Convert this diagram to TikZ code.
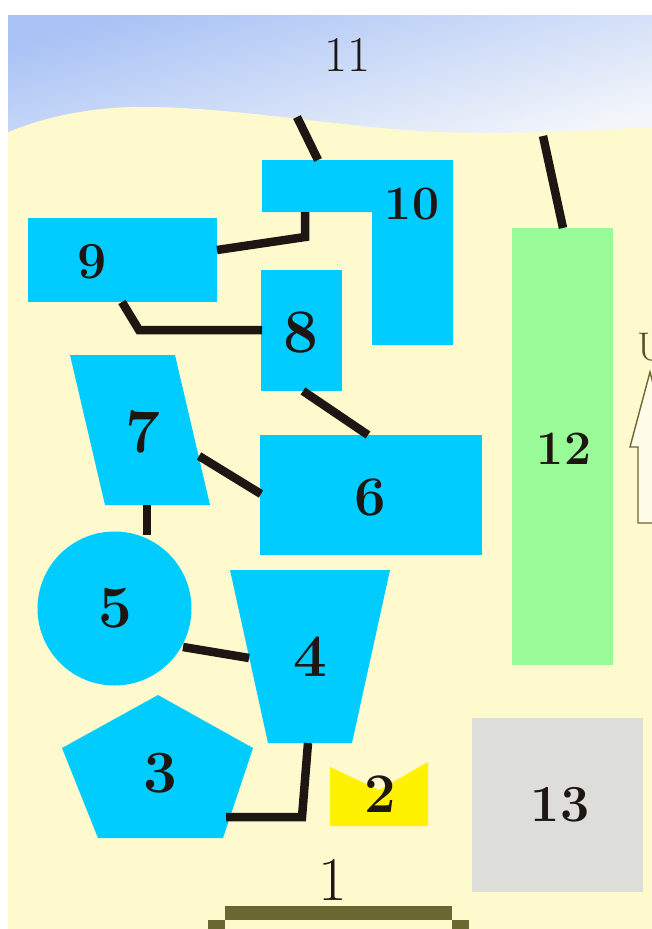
\documentclass[tikz,border=0pt]{standalone}
\usepackage{fontspec}
\usetikzlibrary{shapes.geometric}
\definecolor{skytop}{RGB}{168,194,245}
\definecolor{skylow}{RGB}{242,245,250}
\definecolor{sand}{RGB}{255,250,205}
\definecolor{blu}{RGB}{0,204,255}
\definecolor{grn}{RGB}{152,251,152}
\definecolor{gry}{RGB}{221,221,218}
\definecolor{ylw}{RGB}{255,242,0}
\definecolor{olive}{RGB}{107,103,50}
\definecolor{ink}{RGB}{30,22,18}
\definecolor{ivory}{RGB}{255,253,232}
\tikzset{
  lbl/.style={font=\fontsize{#1}{#1}\selectfont\bfseries, text=ink, inner sep=0pt},
  rlbl/.style={font=\fontsize{#1}{#1}\selectfont, text=ink, inner sep=0pt},
  box/.style={rectangle, fill=blu, draw=none, inner sep=0pt},
  wire/.style={draw=ink, line width=8.5pt, line cap=butt, line join=miter},
}
\begin{document}
\begin{tikzpicture}[x=1pt,y=-1pt]
\useasboundingbox (0,0) rectangle (652,929);
\clip (0,0) rectangle (652,929);
\fill[white] (0,0) rectangle (652,929);
\fill[sand] (8,15) rectangle (652,929);
% sky
\shade[top color=skytop, bottom color=skylow, shading angle=15]
  (8,15) -- (652,15) -- (652,127)
  .. controls (600,130) and (500,136) .. (420,131)
  .. controls (330,125) and (250,110) .. (160,107)
  .. controls (100,105) and (50,115) .. (8,132) -- cycle;

% shapes
\fill[blu] (262,160) coordinate (n10a) -- (453,160) -- (453,345) -- (372,345) -- (372,212) -- (262,212) -- cycle;
\node[box, minimum width=189pt, minimum height=84pt] (n9) at (122.5,260) {};
\node[box, minimum width=81pt, minimum height=121pt] (n8) at (301.5,330.5) {};
\fill[blu] (70,355) -- (175,355) -- (210,505) -- (105,505) -- cycle;
\node[box, minimum width=222pt, minimum height=120pt] (n6) at (371,495) {};
\node[circle, fill=blu, inner sep=0pt, minimum size=154pt] (n5) at (114.5,608.5) {};
\fill[blu] (230,570) -- (390,570) -- (352,743) -- (268,743) -- cycle;
\fill[blu] (158,695) -- (253,748) -- (223,838) -- (98,838) -- (62,748) -- cycle;
\fill[ylw] (330,767) -- (379,790) -- (428,762) -- (428,826) -- (330,826) -- cycle;
\node[rectangle, fill=grn, inner sep=0pt, minimum width=101pt, minimum height=437pt] (n12) at (562.5,446.5) {};
\node[rectangle, fill=gry, inner sep=0pt, minimum width=171pt, minimum height=174pt] (n13) at (557.5,805) {};

% connector end points
\coordinate (s11) at (297,117);
\coordinate (e10) at (318,160);
\coordinate (s12) at (543,136);
\coordinate (e12) at (563,228);
\coordinate (a9) at (217,250);
\coordinate (b9) at (305,237);
\coordinate (c10) at (305,212);
\coordinate (a98) at (122,302);
\coordinate (b98) at (139,330);
\coordinate (c8) at (262,330);
\coordinate (a86) at (303,391);
\coordinate (b6) at (368,435);
\coordinate (a7) at (199,456);
\coordinate (b76) at (261,494);
\coordinate (a75) at (147,505);
\coordinate (b5) at (147,535);
\coordinate (a54) at (183,647);
\coordinate (b4) at (249,658);
\coordinate (a43) at (308,743);
\coordinate (b43) at (302,817);
\coordinate (c3) at (226,817);

% connectors
\draw[wire] (s11) -- (e10);
\draw[wire] (s12) -- (e12);
\draw[wire] (a9) -- (b9) -- (c10);
\draw[wire] (a98) -- (b98) -- (c8);
\draw[wire] (a86) -- (b6);
\draw[wire] (a7) -- (b76);
\draw[wire] (a75) -- (b5);
\draw[wire] (a54) -- (b4);
\draw[wire] (a43) -- (b43) -- (c3);

% up arrow (cut at the edge)
\draw[olive, fill=ivory, line width=1.4pt, line join=miter]
  (650,372) -- (670,447) -- (662,447) -- (662,523) -- (638,523) -- (638,447) -- (630,447) -- cycle;
\node[rlbl=40, text=olive!80!black] (tU) at (651,347) {U};

% bottom bar
\fill[olive] (225,906) rectangle (452,920);
\fill[olive] (208,920) rectangle (225,935);
\fill[olive] (452,920) rectangle (469,935);

% labels
\node[rlbl=50] (t11) at (347,55) {11};
\node[lbl=48] (t10) at (412,204) {10};
\node[lbl=52] (t9) at (92,262) {9};
\node[lbl=62] (t8) at (301,333) {8};
\node[lbl=62] (t7) at (143,432) {7};
\node[lbl=56] (t6) at (370,497) {6};
\node[lbl=60] (t5) at (115,608) {5};
\node[lbl=60] (t4) at (310,657) {4};
\node[lbl=60] (t3) at (160,773) {3};
\node[lbl=56] (t2) at (380,794) {2};
\node[lbl=48] (t12) at (564,449) {12};
\node[lbl=52] (t13) at (560,805) {13};
\node[rlbl=62] (t1) at (333,880) {1};
\end{tikzpicture}
\end{document}
